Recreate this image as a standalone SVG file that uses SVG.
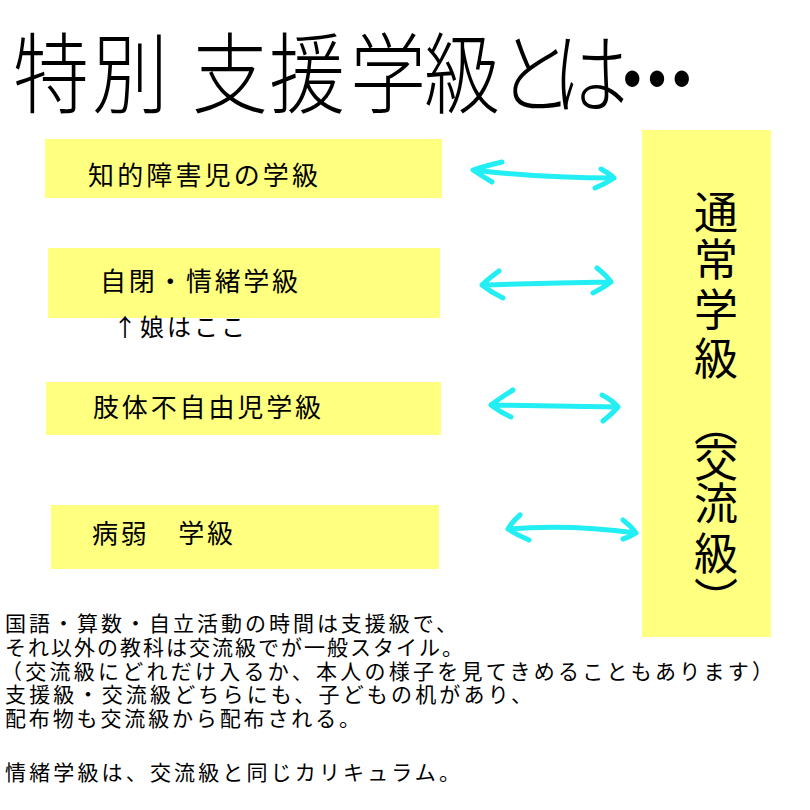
<svg xmlns="http://www.w3.org/2000/svg" width="810" height="810" viewBox="0 0 810 810">
<style>
.box{fill:#FFFF80}
.lbl{font-family:"Noto Sans CJK JP","Noto Sans CJK SC",sans-serif;font-size:26px;fill:#000}
.note{font-family:"Noto Sans CJK JP","Noto Sans CJK SC",sans-serif;font-size:21px;fill:#000}
.title{font-family:"Noto Sans CJK JP","Noto Sans CJK SC",sans-serif;font-size:80px;font-weight:300;fill:#000;text-anchor:middle}
.vt{font-family:"Noto Sans CJK JP","Noto Sans CJK SC",sans-serif;font-size:44px;fill:#000;text-anchor:middle}
.vp{font-family:"Noto Sans CJK JP","Noto Sans CJK SC",sans-serif;font-size:44px;fill:#000;writing-mode:vertical-rl}
.arr{fill:none;stroke:#22EEF4;stroke-width:5;stroke-linecap:round;stroke-linejoin:round}
</style>
<rect width="810" height="810" fill="#fff"/>
<g id="title">
<text class="title" transform="translate(51,106) scale(0.95,1.1)">特</text>
<text class="title" transform="translate(130,106) scale(0.95,1.1)">別</text>
<text class="title" transform="translate(230,106) scale(0.95,1.1)">支</text>
<text class="title" transform="translate(307,106) scale(0.95,1.1)">援</text>
<text class="title" transform="translate(388,106) scale(0.95,1.1)">学</text>
<text class="title" transform="translate(462,106) scale(0.95,1.1)">級</text>
<text class="title" transform="translate(535,106) scale(0.95,1.1)">と</text>
<text class="title" transform="translate(590,106) scale(0.95,1.1)">は</text>
<text class="title" transform="translate(657,112) scale(0.95,1.1)" x="-26 0 26">・・・</text>
</g>
<g id="node-chiteki"><rect class="box" x="45" y="139" width="397" height="59"/><text class="lbl" x="88" y="185" textLength="230" lengthAdjust="spacing">知的障害児の学級</text></g>
<g id="node-jihei"><rect class="box" x="48" y="248" width="392" height="70"/><text class="lbl" x="100" y="291" textLength="198" lengthAdjust="spacing">自閉・情緒学級</text></g>
<text class="lbl" style="font-size:24px" x="113" y="336" textLength="132" lengthAdjust="spacing">↑娘はここ</text>
<g id="node-shitai"><rect class="box" x="46" y="382" width="395" height="53"/><text class="lbl" x="93" y="417" textLength="228" lengthAdjust="spacing">肢体不自由児学級</text></g>
<g id="node-byoujaku"><rect class="box" x="51" y="505" width="388" height="64"/><text class="lbl" x="92" y="543" textLength="141" lengthAdjust="spacing">病弱　学級</text></g>
<g id="node-tsujo"><rect class="box" x="642" y="130" width="129" height="507"/>
<text class="vt" x="716" y="229">通</text>
<text class="vt" x="716" y="276">常</text>
<text class="vt" x="716" y="326">学</text>
<text class="vt" x="716" y="375">級</text>
<text class="vp" x="716" y="402">（</text>
<text class="vt" x="716" y="477">交</text>
<text class="vt" x="716" y="520">流</text>
<text class="vt" x="716" y="570">級</text>
<text class="vp" x="716" y="577">）</text>
</g>
<g id="connectors">
<path class="arr" d="M473,170 Q540,178 614,178 M502,162 Q485,166 473,170 Q482,176 492,182 M601,169 Q610,174 614,178 Q605,184 595,188"/>
<path class="arr" d="M482,285 Q545,283 611,282 M499,271 Q488,279 482,285 Q492,293 503,298 M597,268 Q606,275 611,282 Q603,288 593,293"/>
<path class="arr" d="M491,405 Q555,406 618,407 M513,390 Q500,398 491,405 Q500,412 511,417 M602,395 Q612,400 618,407 Q612,414 603,421"/>
<path class="arr" d="M508,529 Q570,524 636,533 M520,515 Q512,522 508,529 Q517,535 529,540 M623,520 Q631,526 636,533 Q630,537 623,539"/>
</g>
<text class="note" x="5" y="631" textLength="452" lengthAdjust="spacing">国語・算数・自立活動の時間は支援級で、</text>
<text class="note" x="5" y="655" textLength="458" lengthAdjust="spacing">それ以外の教科は交流級でが一般スタイル。</text>
<text class="note" x="1" y="679" textLength="772" lengthAdjust="spacing">（交流級にどれだけ入るか、本人の様子を見てきめることもあります）</text>
<text class="note" x="5" y="702" textLength="527" lengthAdjust="spacing">支援級・交流級どちらにも、子どもの机があり、</text>
<text class="note" x="5" y="726" textLength="355" lengthAdjust="spacing">配布物も交流級から配布される。</text>
<text class="note" x="5" y="780" textLength="455" lengthAdjust="spacing">情緒学級は、交流級と同じカリキュラム。</text>
</svg>
